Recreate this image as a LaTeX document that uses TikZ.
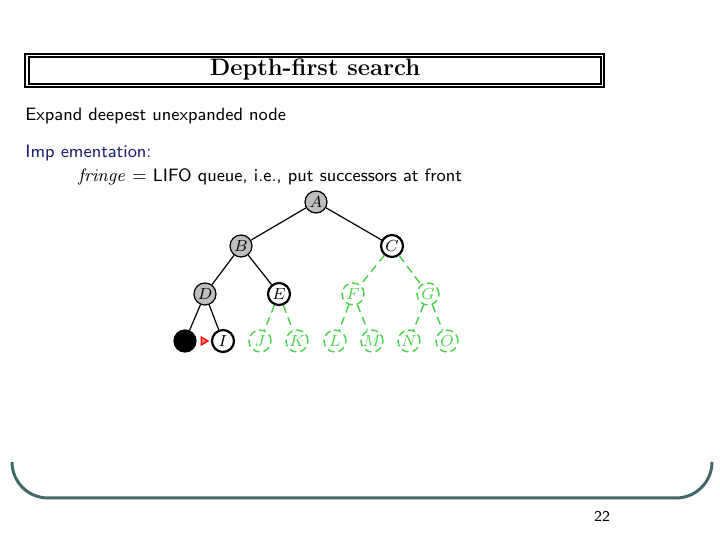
\documentclass[tikz,border=0pt]{standalone}
\usepackage{amsmath}
\usepackage{xcolor}
\usepackage{tikz}
\usetikzlibrary{shapes,arrows.meta,positioning,calc}
\definecolor{fringegreen}{RGB}{70,210,70}
\definecolor{implblue}{RGB}{30,30,110}
\definecolor{bracketteal}{RGB}{65,105,105}
\definecolor{donegray}{RGB}{190,190,190}

\tikzset{
  treenode/.style={circle,draw,line width=0.6pt,minimum size=11pt,inner sep=0pt,
                   font=\fontsize{8}{9}\selectfont},
  expanded/.style={treenode,fill=donegray},
  onfringe/.style={treenode,line width=1.1pt,fill=white},
  unseen/.style={treenode,draw=fringegreen,text=fringegreen,dash pattern=on 3.5pt off 2pt,line width=0.7pt},
  current/.style={treenode,fill=black},
  seenedge/.style={draw,line width=0.6pt},
  newedge/.style={draw=fringegreen,dash pattern=on 4pt off 2.5pt,line width=0.7pt}
}

\begin{document}
\begin{tikzpicture}[x=0.5pt,y=-0.5pt]
                \useasboundingbox (0,0) rectangle (720,540);
                % title frame
                \draw[line width=0.7pt] (25,54) rectangle (604,87);
                \draw[line width=1.1pt] (29,57) rectangle (601,84);
                \node[anchor=base,font=\bfseries\fontsize{11.9}{14}\selectfont] (title) at (315,76) {Depth-first search};
                % text lines
                \node[anchor=base west,inner sep=0pt,font=\sffamily\fontsize{8.95}{10}\selectfont] (expand) at (25,121) {Expand deepest unexpanded node};
                \node[anchor=base west,inner sep=0pt,text=implblue,font=\sffamily\fontsize{8.95}{10}\selectfont] (impl) at (25,158) {Imp ementation:};
                \node[anchor=base west,inner sep=0pt,font=\sffamily\fontsize{8.95}{10}\selectfont] (fringe) at (78,182) {$\mathit{fringe}$ = LIFO queue, i.e., put successors at front};
                % tree
                \node[expanded] (A) at (316,202) {$A$};
                \node[expanded] (B) at (241,246) {$B$};
                \node[onfringe] (C) at (392,246) {$C$};
                \node[expanded] (D) at (205,294) {$D$};
                \node[onfringe] (E) at (279,294) {$E$};
                \node[unseen] (F) at (353,294) {$F$};
                \node[unseen] (G) at (428,294) {$G$};
                \node[current] (H) at (185,341) {};
                \node[onfringe] (I) at (223,341) {$I$};
                \node[unseen] (J) at (260,341) {$J$};
                \node[unseen] (K) at (297,341) {$K$};
                \node[unseen] (L) at (335,341) {$L$};
                \node[unseen] (M) at (372,341) {$M$};
                \node[unseen] (N) at (409,341) {$N$};
                \node[unseen] (O) at (447,341) {$O$};
                \path[seenedge] (A) -- (B) (A) -- (C) (B) -- (D) (B) -- (E) (D) -- (H) (D) -- (I);
                \path[newedge] (C) -- (F) (C) -- (G) (E) -- (J) (E) -- (K)
                               (F) -- (L) (F) -- (M) (G) -- (N) (G) -- (O);
                % pointer to next node
                \node[isosceles triangle,isosceles triangle apex angle=60,draw=red,fill=red!55,
                      line width=0.6pt,minimum size=3.5pt,inner sep=0pt] (ptr) at (203.5,341) {};
                % bottom bracket
                \draw[bracketteal,line width=1.5pt,rounded corners=18pt] (12,462) -- (12,498) -- (712,498) -- (712,462);
                \node[anchor=base,font=\sffamily\fontsize{7.5}{9}\selectfont] (page) at (602,522) {22};
            \end{tikzpicture}
\end{document}
